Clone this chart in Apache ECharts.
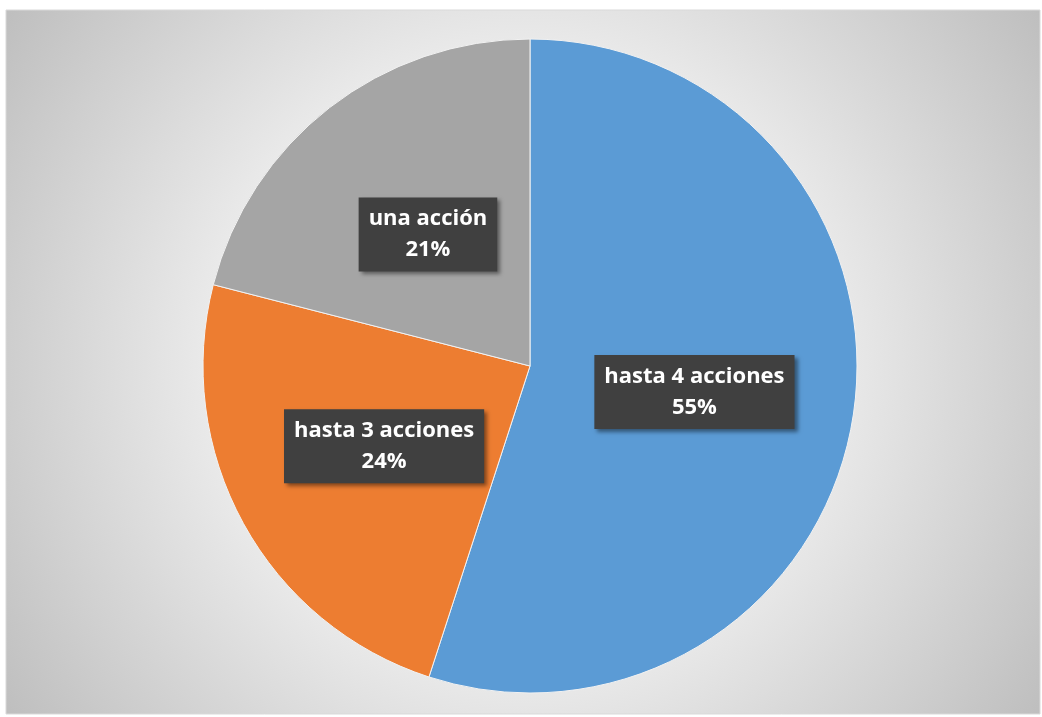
<!DOCTYPE html>
<html>
<head>
<meta charset="utf-8">
<script src="https://cdn.jsdelivr.net/npm/echarts@6/dist/echarts.min.js"></script>
<style>
html, body { margin: 0; padding: 0; background: #fff; }
#myChart { width: 1042px; height: 717px; }
</style>
</head>
<body>
<div id="myChart"></div>
<script>
// categorías y porcentajes
var categories = ['hasta 4 acciones', 'hasta 3 acciones', 'una acción'];
var values = [55, 24, 21];
var colors = ['#5B9BD5', '#ED7D31', '#A5A5A5'];

var pieData = categories.map(function (name, i) {
    return { name: name, value: values[i], itemStyle: { color: colors[i] } };
});

var myChart = echarts.init(document.getElementById('myChart'));
myChart.setOption({
    animation: false,
    graphic: [{
        type: 'rect',
        z: -10,
        shape: { x: 6, y: 10, width: 1034, height: 704 },
        style: {
            fill: {
                type: 'radial', x: 0.5, y: 0.5, r: 0.9,
                colorStops: [
                    { offset: 0, color: '#ffffff' },
                    { offset: 0.45, color: '#eeeeee' },
                    { offset: 1, color: '#bdbdbd' }
                ]
            },
            stroke: '#d9d9d9',
            lineWidth: 1
        }
    }],
    series: [{
        type: 'pie',
        center: [530, 366],
        radius: 327,
        startAngle: 90,
        clockwise: true,
        data: pieData,
        itemStyle: { borderColor: '#f2f2f2', borderWidth: 1 },
        label: {
            position: 'inside',
            formatter: '{b}\n{d}%',
            color: '#ffffff',
            fontFamily: 'Open Sans',
            fontWeight: 'bold',
            fontSize: 22,
            lineHeight: 31,
            backgroundColor: '#404040',
            padding: [7, 10, 5, 10],
            shadowColor: 'rgba(0,0,0,0.45)',
            shadowBlur: 4,
            shadowOffsetX: 3,
            shadowOffsetY: 3
        },
        labelLine: { show: false },
        emphasis: { disabled: true }
    }]
});
</script>
</body>
</html>
